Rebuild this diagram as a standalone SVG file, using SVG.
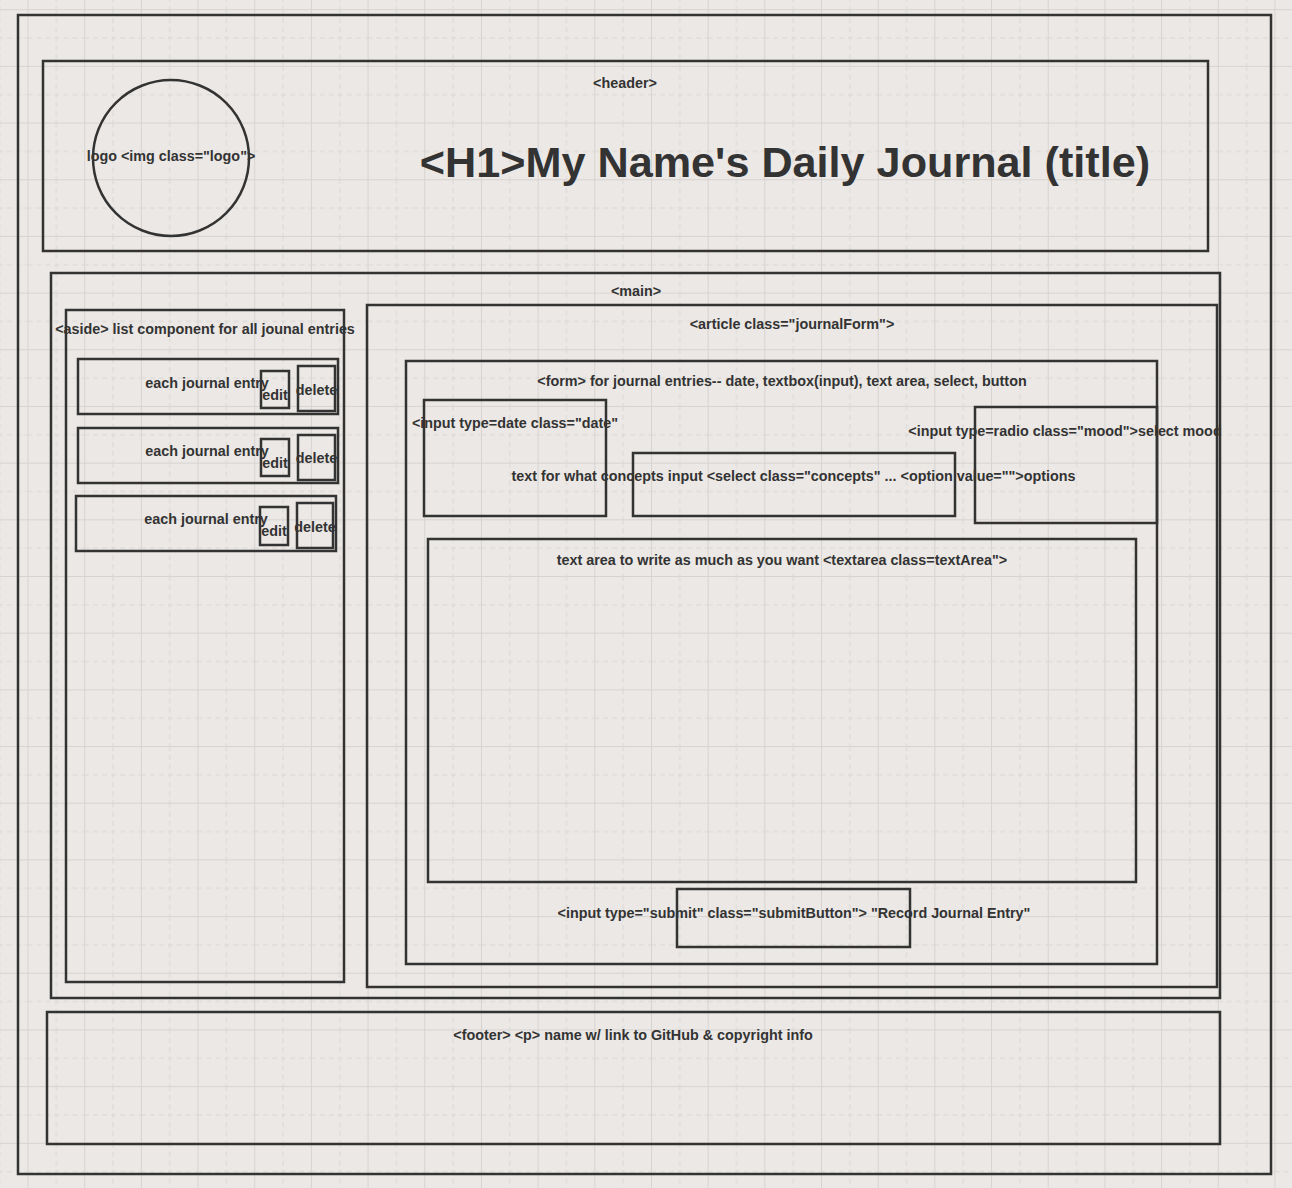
<svg xmlns="http://www.w3.org/2000/svg" width="1292" height="1188" viewBox="0 0 1292 1188">
<defs>
<pattern id="grid" patternUnits="userSpaceOnUse" x="27.5" y="9.2" width="56.68" height="56.68">
<path d="M0.5 0V56.68M0 0.5H56.68" stroke="#d6d3d0" stroke-width="1" fill="none"/>
<path d="M28.84 0V56.68M0 28.84H56.68" stroke="#dad7d4" stroke-width="1" stroke-dasharray="5 4" fill="none"/>
</pattern>
<style>
.b{fill:none;stroke:#333;stroke-width:2.5}
.t{font-family:"Liberation Sans",Arial,sans-serif;font-weight:bold;font-size:14.35px;fill:#333;text-anchor:middle}
.h1{font-size:43.2px}
</style>
</defs>
<rect width="1292" height="1188" fill="#ebe8e5"/>
<rect width="1292" height="1188" fill="url(#grid)"/>
<g id="page"><rect class="b" x="18" y="15" width="1253" height="1159"/></g>
<g id="header">
<rect class="b" x="43" y="61" width="1165" height="190"/>
<text class="t" x="625" y="88">&lt;header&gt;</text>
</g>
<g id="logo">
<circle class="b" cx="171" cy="158" r="78"/>
<text class="t" x="171" y="161">logo &lt;img class="logo"&gt;</text>
</g>
<g id="title"><text class="t h1" x="785" y="177">&lt;H1&gt;My Name's Daily Journal (title)</text></g>
<g id="main">
<rect class="b" x="51" y="273" width="1169" height="725"/>
<text class="t" x="636" y="296">&lt;main&gt;</text>
</g>
<g id="aside">
<rect class="b" x="66" y="310" width="278" height="672"/>
<text class="t" x="205" y="334">&lt;aside&gt; list component for all jounal entries</text>
</g>
<g id="entry1">
<rect class="b" x="78" y="359" width="260" height="55"/>
<text class="t" x="207" y="388">each journal entry</text>
</g>
<g id="edit1"><rect class="b" x="261" y="371" width="28" height="37"/><text class="t" x="275" y="400">edit</text></g>
<g id="delete1"><rect class="b" x="298" y="366" width="37" height="45"/><text class="t" x="316.5" y="395">delete</text></g>
<g id="entry2">
<rect class="b" x="78" y="428" width="260" height="55"/>
<text class="t" x="207" y="456">each journal entry</text>
</g>
<g id="edit2"><rect class="b" x="261" y="439" width="28" height="37"/><text class="t" x="275" y="468">edit</text></g>
<g id="delete2"><rect class="b" x="298" y="435" width="37" height="45"/><text class="t" x="316.5" y="463">delete</text></g>
<g id="entry3">
<rect class="b" x="76" y="496" width="260" height="55"/>
<text class="t" x="206" y="524">each journal entry</text>
</g>
<g id="edit3"><rect class="b" x="260" y="507" width="28" height="38"/><text class="t" x="274" y="536">edit</text></g>
<g id="delete3"><rect class="b" x="297" y="503" width="36" height="45"/><text class="t" x="315" y="532">delete</text></g>
<g id="article">
<rect class="b" x="367" y="305" width="850" height="682"/>
<text class="t" x="792" y="329">&lt;article class="journalForm"&gt;</text>
</g>
<g id="form">
<rect class="b" x="406" y="361" width="751" height="603"/>
<text class="t" x="782" y="386">&lt;form&gt; for journal entries-- date, textbox(input), text area, select, button</text>
</g>
<g id="date">
<rect class="b" x="424" y="400" width="182" height="116"/>
<text class="t" x="515" y="428">&lt;input type=date class="date"</text>
</g>
<g id="concepts">
<rect class="b" x="633" y="453" width="322" height="63"/>
<text class="t" x="793.5" y="481">text for what concepts input &lt;select class="concepts" ... &lt;option value=""&gt;options</text>
</g>
<g id="mood">
<rect class="b" x="975" y="407" width="182" height="116"/>
<text class="t" x="1065" y="436">&lt;input type=radio class="mood"&gt;select mood</text>
</g>
<g id="textarea">
<rect class="b" x="428" y="539" width="708" height="343"/>
<text class="t" x="782" y="565">text area to write as much as you want &lt;textarea class=textArea"&gt;</text>
</g>
<g id="submit">
<rect class="b" x="677" y="889" width="233" height="58"/>
<text class="t" x="794" y="918">&lt;input type="submit" class="submitButton"&gt; "Record Journal Entry"</text>
</g>
<g id="footer">
<rect class="b" x="47" y="1012" width="1173" height="132"/>
<text class="t" x="633" y="1040">&lt;footer&gt; &lt;p&gt; name w/ link to GitHub &amp; copyright info</text>
</g>
<g id="connectors"/>
</svg>
